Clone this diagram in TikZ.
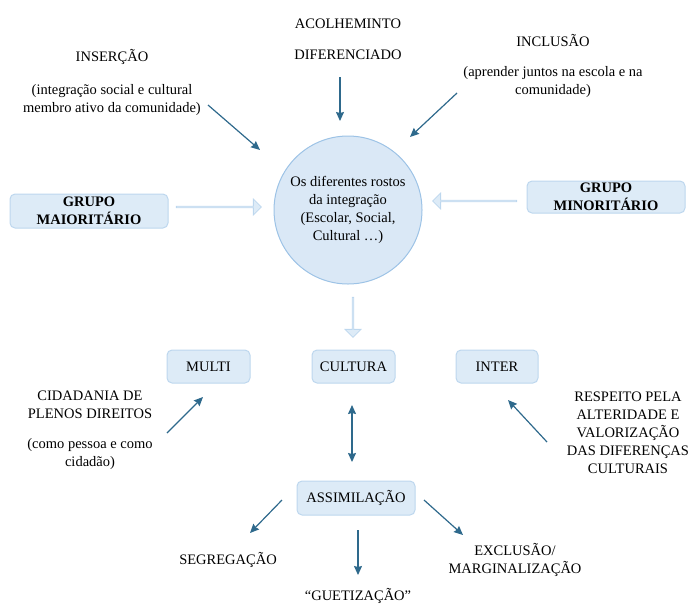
\documentclass[tikz,border=0pt]{standalone}
\usepackage{fontspec}
\setmainfont{Liberation Serif}
\usetikzlibrary{arrows.meta, shapes.arrows, positioning}

\definecolor{arrowblue}{RGB}{46,105,140}
\definecolor{boxfill}{RGB}{221,235,247}
\definecolor{boxline}{RGB}{189,215,238}
\definecolor{circfill}{RGB}{218,232,246}
\definecolor{circline}{RGB}{157,195,230}

\tikzset{
  txt/.style = {font=\rmfamily\fontsize{14.5}{18}\selectfont, align=center, inner sep=0pt},
  box/.style = {txt, draw=boxline, fill=boxfill, rounded corners=5pt, line width=1pt},
  bigarrow/.style = {single arrow, draw=boxline, fill=boxfill, line width=0.8pt,
                     minimum width=16pt, single arrow head extend=4pt, inner sep=0pt},
  link/.style = {->, draw=arrowblue, line width=1.2pt}
}

\begin{document}
\begin{tikzpicture}[x=1pt, y=-1pt, > = {Stealth[length=9pt, width=8pt, inset=1pt]}]
    \useasboundingbox (0,0) rectangle (692,606);

    % centro
    \node[txt, circle, draw=circline, fill=circfill, line width=1pt, minimum size=148pt]
          (rostos) at (348,210) {Os diferentes rostos\\da integração\\(Escolar, Social,\\Cultural \dots)};

    % grupos
    \node[box, minimum width=158pt, minimum height=34pt] (maior) at (89,211)  {\bfseries GRUPO\\\bfseries MAIORITÁRIO};
    \node[box, minimum width=158pt, minimum height=32pt] (minor) at (606,197) {\bfseries GRUPO\\\bfseries MINORITÁRIO};
    \node[bigarrow, minimum height=85pt, shape border rotate=0]   (setaE) at (218.5,207) {};
    \node[bigarrow, minimum height=84pt, shape border rotate=180] (setaD) at (475,201)   {};
    \node[bigarrow, minimum height=40pt, shape border rotate=270] (setaB) at (353,317)   {};

    % textos de cima
    \node[txt] (acolh)  at (348,39.5) {ACOLHEMINTO\\[12.5pt]DIFERENCIADO};
    \node[txt] (insercao) at (112,82.5) {INSERÇÃO\\[15pt](integração social e cultural\\membro ativo da comunidade)};
    \node[txt] (inclusao) at (553,66) {INCLUSÃO\\[12pt](aprender juntos na escola e na\\comunidade)};

    % caixas do meio
    \node[box, minimum width=83pt, minimum height=33pt] (multi)   at (208.5,366.5) {MULTI};
    \node[box, minimum width=83pt, minimum height=33pt] (cultura) at (353.5,366.5) {CULTURA};
    \node[box, minimum width=82pt, minimum height=33pt] (inter)   at (497,366.5)   {INTER};
    \node[box, minimum width=118pt, minimum height=34pt] (assim)  at (356,498)     {ASSIMILAÇÃO};

    \node[txt] (cidadania) at (90,430) {CIDADANIA DE\\PLENOS DIREITOS\\[12pt](como pessoa e como\\cidadão)};
    \node[txt] (respeito)  at (628,433) {RESPEITO PELA\\ALTERIDADE E\\VALORIZAÇÃO\\DAS DIFERENÇAS\\CULTURAIS};

    % resultados
    \node[txt] (segreg)  at (228,560) {SEGREGAÇÃO};
    \node[txt] (guetiz)  at (358,596) {``GUETIZAÇÃO''};
    \node[txt] (exclus)  at (515,560) {EXCLUSÃO/\\MARGINALIZAÇÃO};

    % pontas livres das setas
    \coordinate (a1) at (340,77);   \coordinate (b1) at (340,121);
    \coordinate (a2) at (208,105);  \coordinate (b2) at (260,150);
    \coordinate (a3) at (457,93);   \coordinate (b3) at (410,137);
    \coordinate (a4) at (167,433);  \coordinate (b4) at (203,397);
    \coordinate (a5) at (547,442);  \coordinate (b5) at (508,400);
    \coordinate (a6) at (352,405);  \coordinate (b6) at (352,462);
    \coordinate (a7) at (282,500);  \coordinate (b7) at (250,533);
    \coordinate (a8) at (358,530);  \coordinate (b8) at (358,575);
    \coordinate (a9) at (424,500);  \coordinate (b9) at (463,535);

    \draw[link] (a1) -- (b1);
    \draw[link] (a2) -- (b2);
    \draw[link] (a3) -- (b3);
    \draw[link] (a4) -- (b4);
    \draw[link] (a5) -- (b5);
    \draw[link, <->] (a6) -- (b6);
    \draw[link] (a7) -- (b7);
    \draw[link] (a8) -- (b8);
    \draw[link] (a9) -- (b9);
\end{tikzpicture}
\end{document}
